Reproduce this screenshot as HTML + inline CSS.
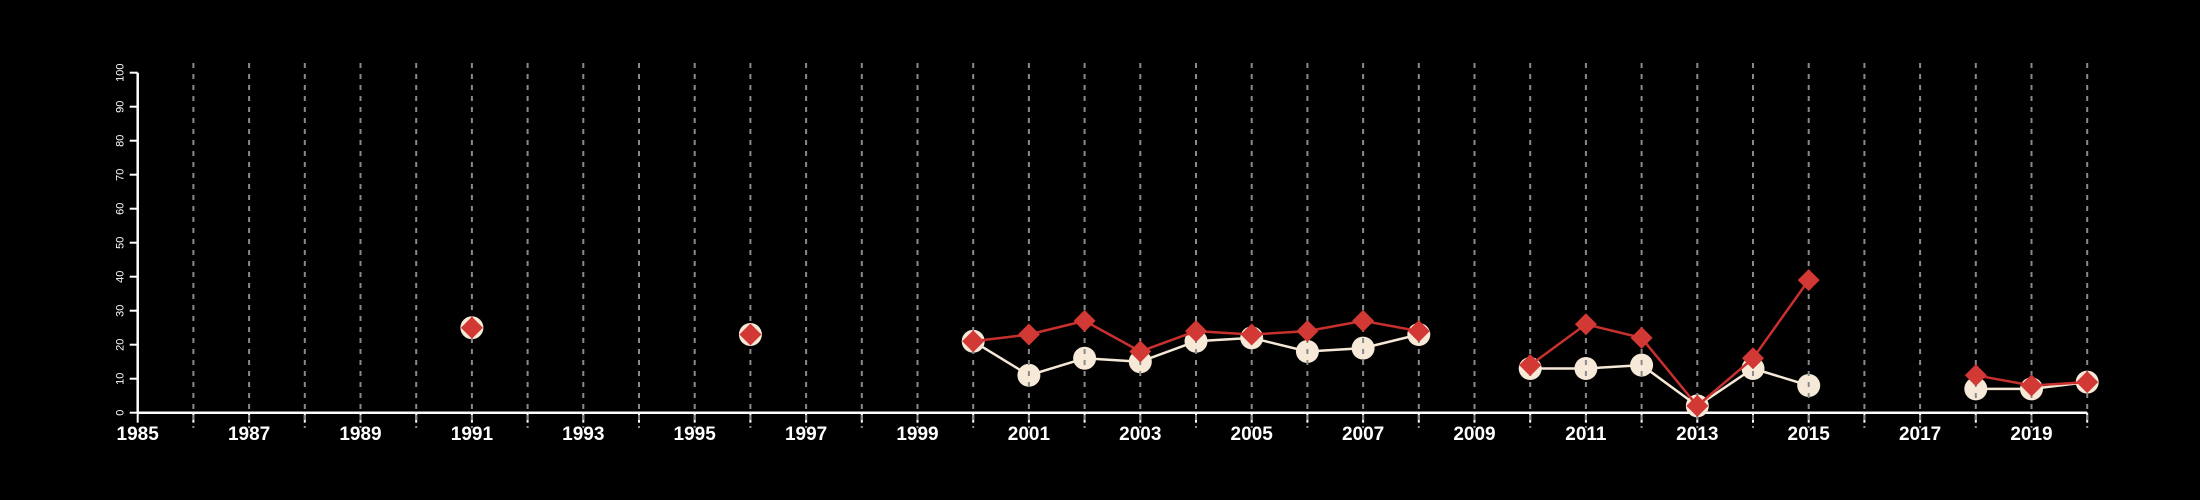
<!DOCTYPE html>
<html><head><meta charset="utf-8"><style>
html,body{margin:0;padding:0;background:#000;}
svg{display:block;font-family:"Liberation Sans",sans-serif;}
</style></head><body>
<svg id="chart" width="2200" height="500" viewBox="0 0 2200 500"></svg>
<script>
const years = [1991,1996,2000,2001,2002,2003,2004,2005,2006,2007,2008,2010,2011,2012,2013,2014,2015,2018,2019,2020];
const seriesWhite = [25,23,21,11,16,15,21,22,18,19,23,13,13,14,2,13,8,7,7,9];
const seriesRed = [25,23,21,23,27,18,24,23,24,27,24,14,26,22,2,16,39,11,8,9];
const yTicks = [0,10,20,30,40,50,60,70,80,90,100];
const xLabelYears = [1985,1987,1989,1991,1993,1995,1997,1999,2001,2003,2005,2007,2009,2011,2013,2015,2017,2019];

const NS="http://www.w3.org/2000/svg";
const svg=document.getElementById('chart');
const x0=137.7, yr0=1985, pxYr=55.7, yb=412.7, pxU=3.4;
const X=y=>x0+(y-yr0)*pxYr;
const Y=v=>yb-v*pxU;
function mk(t,a,p){const e=document.createElementNS(NS,t);for(const k in a)e.setAttribute(k,a[k]);(p||svg).appendChild(e);return e;}

// y axis
const ya=mk('g',{});


mk('line',{x1:x0,x2:x0,y1:Y(100),y2:Y(0),stroke:'#fff','stroke-width':2.5},ya);
yTicks.forEach(v=>{
  mk('line',{x1:x0-8,x2:x0,y1:Y(v),y2:Y(v),stroke:'#fff','stroke-width':2},ya);
  const t=mk('text',{x:0,y:0,fill:'#fff','font-size':11,'text-anchor':'middle',transform:`translate(${x0-14},${Y(v)}) rotate(-90)`},ya);
  
  
  t.textContent=v;
});
// x axis
const xa=mk('g',{});


mk('line',{x1:x0,x2:X(2020),y1:yb,y2:yb,stroke:'#fff','stroke-width':2.5},xa);
for(let y=1985;y<=2020;y++) mk('line',{x1:X(y),x2:X(y),y1:yb,y2:yb+10,stroke:'#fff','stroke-width':2},xa);
xLabelYears.forEach(y=>{
  const t=mk('text',{x:X(y),y:440,fill:'#fff','font-size':19,'font-weight':'bold','text-anchor':'middle'},xa);
  
  
  t.textContent=y;
});
function drawLine(vals,color,name){
  const g=mk('g',{});
  
  
  for(let i=1;i<years.length;i++){
    if(years[i]-years[i-1]===1){
      mk('line',{x1:X(years[i-1]),y1:Y(vals[i-1]),x2:X(years[i]),y2:Y(vals[i]),stroke:color,'stroke-width':2.5},g);
    }
  }
}
drawLine(seriesWhite,'#f5e8d6','white-series-line');
years.forEach((y,i)=>{
  const c=mk('circle',{cx:X(y),cy:Y(seriesWhite[i]),r:11.5,fill:'#f7e9d7'});
  
  
});
const grid=mk('g',{});


for(let y=1986;y<=2020;y++){
  const l=mk('line',{x1:X(y),x2:X(y),y1:63,y2:428,stroke:'#8a8a8a','stroke-width':2,'stroke-dasharray':'5,6'},grid);
  
  
}
drawLine(seriesRed,'#c8302e','red-series-line');
years.forEach((y,i)=>{
  const cx=X(y),cy=Y(seriesRed[i]),r=11;
  const p=mk('polygon',{points:`${cx},${cy-r} ${cx+r},${cy} ${cx},${cy+r} ${cx-r},${cy}`,fill:'#d23834'});
  
  
});
</script>
</body></html>
